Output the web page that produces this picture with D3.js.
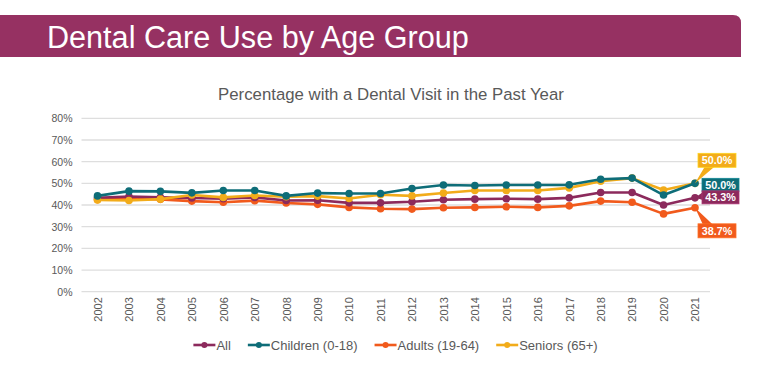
<!DOCTYPE html>
<html>
<head>
<meta charset="utf-8">
<script src="https://cdn.jsdelivr.net/npm/d3@7"></script>
<style>
  body { margin: 0; background: #fff; }
  text { font-family: "Liberation Sans", Arial, sans-serif; }
</style>
</head>
<body>
<div id="chart"></div>
<script>
"use strict";

// data
var years = ["2002","2003","2004","2005","2006","2007","2008","2009","2010","2011",
             "2012","2013","2014","2015","2016","2017","2018","2019","2020","2021"];
var allAges  = [43.3,43.9,43.5,43.2,42.9,43.5,42.1,42.2,41.0,41.0,41.5,42.4,42.7,42.9,42.7,43.3,45.8,45.8,40.0,43.3];
var children = [44.2,46.4,46.3,45.6,46.7,46.7,44.2,45.5,45.3,45.3,47.6,49.2,49.0,49.2,49.2,49.3,51.9,52.4,44.6,50.0];
var adults   = [42.5,43.0,42.6,41.8,41.3,42.0,40.9,40.3,38.9,38.3,38.1,38.7,38.9,39.2,38.9,39.6,41.8,41.3,35.9,38.7];
var seniors  = [42.3,42.1,42.7,44.6,43.5,44.4,43.8,44.1,43.0,44.7,44.2,45.5,46.7,46.7,46.7,47.9,51.0,52.4,46.9,50.0];
var yTicks = [0,10,20,30,40,50,60,70,80];

var series = [
    { name: "All", values: allAges, color: "#8c2a5c" },
    { name: "Children (0-18)", values: children, color: "#0e6d78" },
    { name: "Adults (19-64)", values: adults, color: "#f15a1c" },
    { name: "Seniors (65+)", values: seniors, color: "#f2ac1a" }
];

var W = 768, H = 387;
var svg = d3.select("#chart").append("svg")
    .attr("width", W)
    .attr("height", H);

// banner
var bx0 = 0, bx1 = 741, by0 = 15, by1 = 57, r = 8;
svg.append("path")
    .attr("d", "M" + bx0 + "," + by0 + "H" + (bx1 - r) + "Q" + bx1 + "," + by0 + " " + bx1 + "," + (by0 + r) +
               "V" + by1 + "H" + bx0 + "Z")
    .attr("fill", "#963162");
svg.append("text")
    .attr("x", 47).attr("y", 48)
    .attr("fill", "#fff")
    .attr("font-size", 30.6)
    .text("Dental Care Use by Age Group");

var x = d3.scalePoint().domain(years).range([97.5, 695]);
var y = d3.scaleLinear().domain([0, 80]).range([291.7, 118.3]);
var gridLeft = 81.5, gridRight = 710;

svg.append("text")
    .attr("x", 391).attr("y", 100)
    .attr("text-anchor", "middle")
    .attr("fill", "#595959")
    .attr("font-size", 16.8)
    .text("Percentage with a Dental Visit in the Past Year");

// grid
svg.append("g").selectAll("line")
    .data(yTicks)
    .enter().append("line")
    .attr("x1", gridLeft).attr("x2", gridRight)
    .attr("y1", function (d) { return y(d); })
    .attr("y2", function (d) { return y(d); })
    .attr("stroke", "#dedede")
    .attr("stroke-width", 1.3);

// y axis labels
var yAxis = svg.append("g")
    .attr("transform", "translate(" + (gridLeft - 9) + ",0)")
    .call(d3.axisLeft(y).tickValues(yTicks).tickSize(0).tickFormat(function (d) { return d + "%"; }));
yAxis.select(".domain").remove();
yAxis.selectAll("text")
    .attr("fill", "#595959")
    .attr("font-size", 10.5)
    .attr("font-family", "'Liberation Sans', Arial, sans-serif")
    .attr("x", 0);

// x axis labels, rotated
var xAxis = svg.append("g")
    .attr("transform", "translate(0," + (y(0) + 6) + ")")
    .call(d3.axisBottom(x).tickSize(0));
xAxis.select(".domain").remove();
xAxis.selectAll("text")
    .attr("fill", "#595959")
    .attr("font-size", 11)
    .attr("font-family", "'Liberation Sans', Arial, sans-serif")
    .attr("transform", "rotate(-90)")
    .attr("text-anchor", "start")
    .attr("x", -24)
    .attr("y", 0)
    .attr("dy", "0.35em");

// lines
var line = d3.line()
    .x(function (d, i) { return x(years[i]); })
    .y(function (d) { return y(d); });

var drawOrder = [series[2], series[0], series[3], series[1]];
drawOrder.forEach(function (s) {
    var g = svg.append("g");
    g.append("path")
        .datum(s.values)
        .attr("d", line)
        .attr("fill", "none")
        .attr("stroke", s.color)
        .attr("stroke-width", 2.6)
        .attr("stroke-linejoin", "round");
    g.selectAll("circle")
        .data(s.values)
        .enter().append("circle")
        .attr("cx", function (d, i) { return x(years[i]); })
        .attr("cy", function (d) { return y(d); })
        .attr("r", 3.8)
        .attr("fill", s.color);
});

// end labels (callouts)
var last = years.length - 1;
var px = x(years[last]);
function callout(s, bx, by, bw, bh, tail) {
    var g = svg.append("g");
    if (tail) {
        g.append("path")
            .attr("d", "M" + px + "," + y(s.values[last]) + "L" + tail[0] + "," + tail[1] + "L" + tail[2] + "," + tail[3] + "Z")
            .attr("fill", s.color);
    }
    g.append("rect")
        .attr("x", bx).attr("y", by)
        .attr("width", bw).attr("height", bh)
        .attr("fill", s.color)
        .attr("stroke", d3.color(s.color).brighter(0.6))
        .attr("stroke-width", 0.8);
    g.append("text")
        .attr("x", bx + bw / 2).attr("y", by + bh / 2)
        .attr("dy", "0.36em")
        .attr("text-anchor", "middle")
        .attr("fill", "#fff")
        .attr("font-size", 10.8)
        .attr("font-weight", "bold")
        .text(s.values[last].toFixed(1) + "%");
}
var ys = y(seniors[last]), ya = y(adults[last]), yc = y(children[last]), yl = y(allAges[last]);
callout(series[3], 698, ys - 30, 38, 14, [705, ys - 17, 715, ys - 17]);
callout(series[1], 702, yc - 5, 37, 13, null);
callout(series[0], 702, yl - 7, 37, 13, [702, yl - 5, 702, yl + 2]);
callout(series[2], 698, ya + 16, 38, 14, [703, ya + 17, 713, ya + 17]);

// legend
var legend = svg.append("g");
var lx = 0;
series.forEach(function (s) {
    var item = legend.append("g").attr("transform", "translate(" + lx + ",0)");
    item.append("line")
        .attr("x1", 0).attr("x2", 22)
        .attr("y1", 0).attr("y2", 0)
        .attr("stroke", s.color)
        .attr("stroke-width", 2.6);
    item.append("circle")
        .attr("cx", 11).attr("cy", 0).attr("r", 3)
        .attr("fill", s.color);
    var t = item.append("text")
        .attr("x", 23).attr("y", 0)
        .attr("dy", "0.35em")
        .attr("fill", "#595959")
        .attr("font-size", 13)
        .text(s.name);
    lx += 23 + t.node().getComputedTextLength() + 17;
});
var legendW = lx - 17;
legend.attr("transform", "translate(" + (395.5 - legendW / 2) + ",345)");
</script>
</body>
</html>
